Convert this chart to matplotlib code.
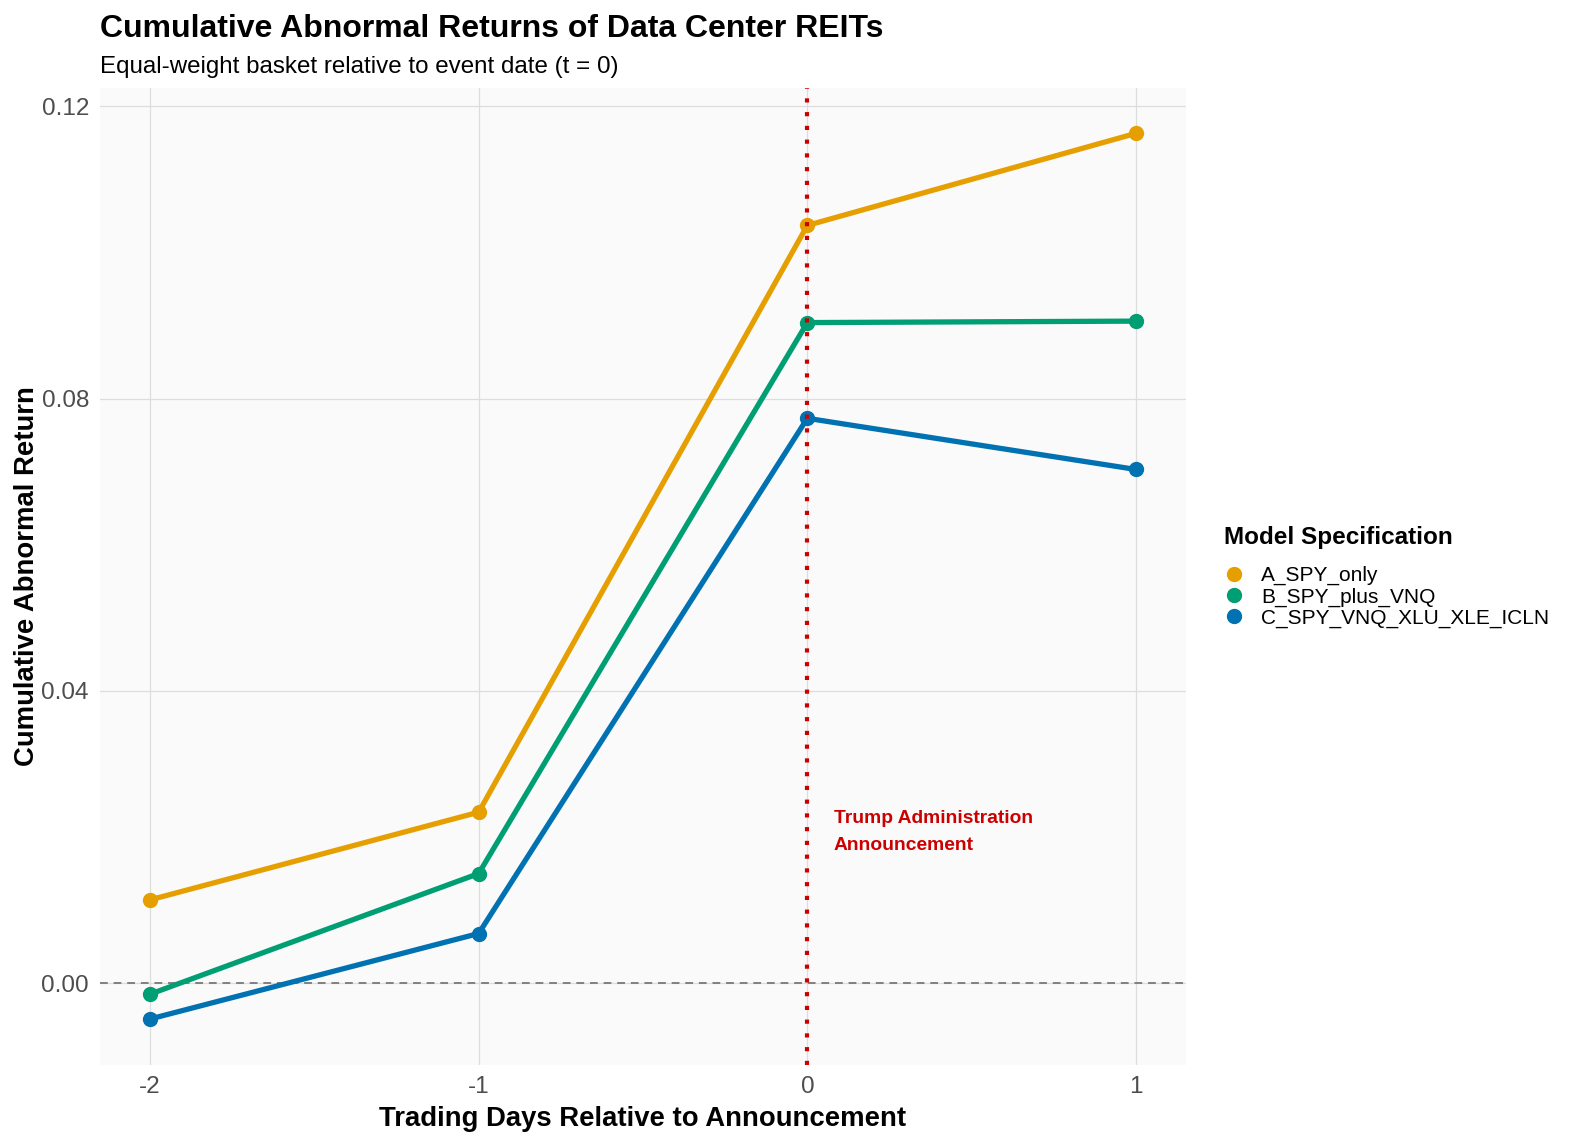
import matplotlib
matplotlib.use("Agg")
import matplotlib.pyplot as plt
from matplotlib.lines import Line2D

plt.rcParams['font.family'] = ['Liberation Sans', 'DejaVu Sans']

days = [-2, -1, 0, 1]
models = ['A_SPY_only', 'B_SPY_plus_VNQ', 'C_SPY_VNQ_XLU_XLE_ICLN']
car_a = [0.0114, 0.0234, 0.1037, 0.1163]
car_b = [-0.0015, 0.0150, 0.0904, 0.0906]
car_c = [-0.0049, 0.0068, 0.0773, 0.0703]
colors = ['#E69F00', '#009E73', '#0072B2']

fig = plt.figure(figsize=(15.7, 11.43), dpi=100)
ax = fig.add_axes([0.0637, 0.0682, 0.6917, 0.8548])
ax.set_facecolor('#FAFAFA')

ax.axhline(0, color='#808080', linestyle=(0, (4, 3)), linewidth=1.4, zorder=1)
ax.axvline(0, color='#CC0000', linestyle=(0, (1, 2.3)), linewidth=3.0, zorder=4)

for vals, col in zip([car_a, car_b, car_c], colors):
    ax.plot(days, vals, color=col, linewidth=3.8, marker='o', markersize=10, zorder=3)

ax.text(0.08, 0.0207, 'Trump Administration\nAnnouncement', color='#CC0000',
        fontsize=13.9, fontweight='bold', ha='left', va='center', linespacing=1.75)

ax.set_xlim(-2.152, 1.152)
ax.set_ylim(-0.0112, 0.1225)
ax.set_xticks(days)
ax.set_xticklabels(['-2', '-1', '0', '1'])
ax.set_yticks([0.0, 0.04, 0.08, 0.12])
ax.set_yticklabels(['0.00', '0.04', '0.08', '0.12'])
ax.grid(True, color='#DDDDDD', linewidth=0.9)
ax.set_axisbelow(True)
for s in ax.spines.values():
    s.set_visible(False)
ax.tick_params(length=0, labelsize=17.5, labelcolor='#4D4D4D', pad=8)

ax.set_xlabel('Trading Days Relative to Announcement', fontsize=19.8, fontweight='bold', labelpad=6)
ax.set_ylabel('Cumulative Abnormal Return', fontsize=19.8, fontweight='bold', labelpad=1)

fig.text(0.0637, 0.975, 'Cumulative Abnormal Returns of Data Center REITs',
         fontsize=23, fontweight='bold', ha='left', va='center')
fig.text(0.0637, 0.941, 'Equal-weight basket relative to event date (t = 0)',
         fontsize=17.4, ha='left', va='center')

handles = [Line2D([], [], color=c, marker='o', linestyle='none', markersize=10) for c in colors]
leg = fig.legend(handles, models, title='Model Specification', loc='center left',
                 bbox_to_anchor=(0.774, 0.495), frameon=False, fontsize=15,
                 title_fontproperties={'weight': 'bold', 'size': 17.5},
                 handletextpad=0.8, labelspacing=0.1, borderaxespad=0,
                 handlelength=1.0)
leg._legend_box.align = 'left'
leg._legend_box.sep = 12

fig.savefig('out.png', dpi=100)
